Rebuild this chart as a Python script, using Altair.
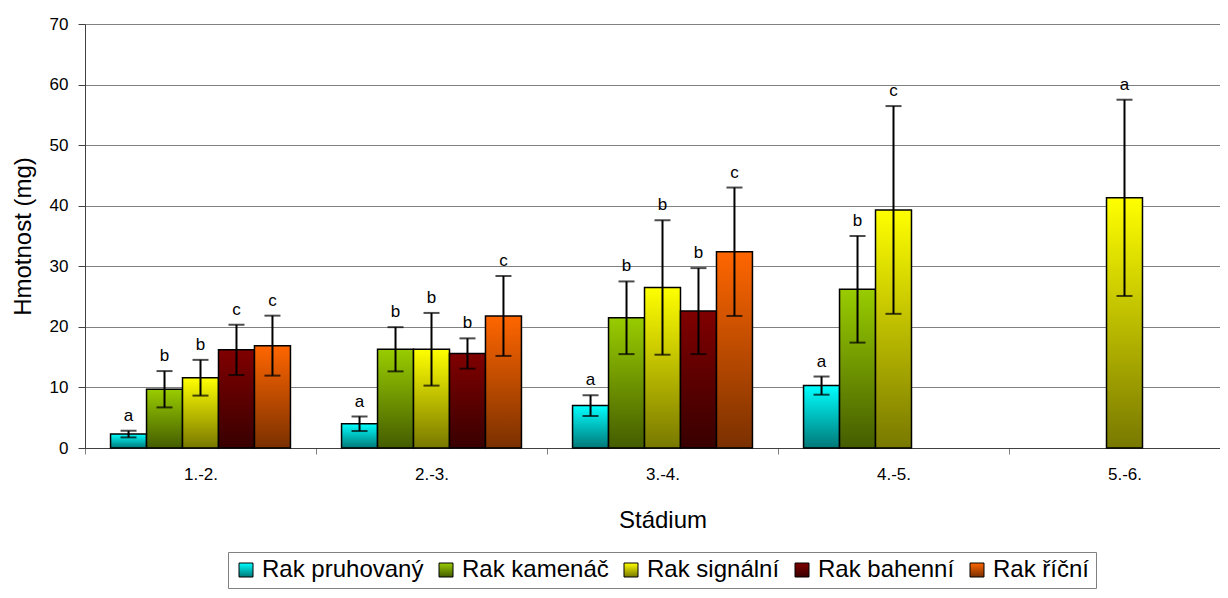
import altair as alt
import pandas as pd

stages = ["1.-2.", "2.-3.", "3.-4.", "4.-5.", "5.-6."]
species = ["Rak pruhovaný", "Rak kamenáč", "Rak signální", "Rak bahenní", "Rak říční"]

# mean weight (mg) per stage, error (± mg), significance letter
pruhovany_mean = [2.3, 4.0, 7.0, 10.3, None]
pruhovany_err = [0.55, 1.2, 1.7, 1.5, None]
pruhovany_let = ["a", "a", "a", "a", None]

kamenac_mean = [9.7, 16.3, 21.5, 26.2, None]
kamenac_err = [3.0, 3.65, 6.0, 8.8, None]
kamenac_let = ["b", "b", "b", "b", None]

signalni_mean = [11.6, 16.3, 26.5, 39.3, 41.3]
signalni_err = [2.95, 6.0, 11.1, 17.15, 16.2]
signalni_let = ["b", "b", "b", "c", "a"]

bahenni_mean = [16.2, 15.6, 22.6, None, None]
bahenni_err = [4.15, 2.5, 7.1, None, None]
bahenni_let = ["c", "b", "b", None, None]

ricni_mean = [16.9, 21.8, 32.4, None, None]
ricni_err = [4.95, 6.6, 10.6, None, None]
ricni_let = ["c", "c", "c", None, None]

grad_top = ["#00ffff", "#99cc00", "#ffff00", "#800000", "#ff6600"]
grad_bottom = ["#007878", "#445c00", "#787800", "#380000", "#7a3000"]

series = [
    (pruhovany_mean, pruhovany_err, pruhovany_let),
    (kamenac_mean, kamenac_err, kamenac_let),
    (signalni_mean, signalni_err, signalni_let),
    (bahenni_mean, bahenni_err, bahenni_let),
    (ricni_mean, ricni_err, ricni_let),
]

rows = []
for sp, (means, errs, lets) in zip(species, series):
    for st, m, e, l in zip(stages, means, errs, lets):
        if m is None:
            continue
        rows.append({"stage": st, "species": sp, "mean": m,
                     "lo": m - e, "hi": m + e, "letter": l})
df = pd.DataFrame(rows)

FONT = "Liberation Sans"

# vertical gradient (light top -> dark bottom) for each species, used as colour range
grad_range = [
    alt.ExprRef(expr="{gradient: 'linear', x1: 0, y1: 0, x2: 0, y2: 1, stops: ["
                     "{offset: 0, color: '%s'}, {offset: 1, color: '%s'}]}" % (t, b))
    for t, b in zip(grad_top, grad_bottom)
]

x_enc = alt.X(
    "stage:N",
    scale=alt.Scale(domain=stages, paddingInner=0, paddingOuter=0, range=[0, 1155]),
    axis=alt.Axis(title="Stádium", labelAngle=0, tickBand="extent", grid=False,
                  domainColor="#404040", tickColor="#808080", tickSize=6,
                  labelFontSize=17, labelPadding=12, labelColor="black",
                  titleFontSize=24, titlePadding=26, titleFontWeight="normal",
                  titleColor="black"),
)
xoff_enc = alt.XOffset("species:N",
                       scale=alt.Scale(domain=species, paddingInner=0, paddingOuter=0.71))
y_scale = alt.Scale(domain=[0, 70], nice=False)
y_axis = alt.Axis(title="Hmotnost (mg)", values=[0, 10, 20, 30, 40, 50, 60, 70],
                  grid=True, gridColor="#808080", domainColor="#404040",
                  tickColor="#404040", tickSize=7, labelFontSize=17, labelPadding=10,
                  labelColor="black", titleFontSize=24, titlePadding=14,
                  titleFontWeight="normal", titleColor="black")

base = alt.Chart(df).encode(x=x_enc, xOffset=xoff_enc)

bars = base.mark_bar(stroke="black", strokeWidth=1.5, opacity=1).encode(
    y=alt.Y("mean:Q", scale=y_scale, axis=y_axis),
    color=alt.Color("species:N",
                    scale=alt.Scale(domain=species, range=grad_range),
                    legend=alt.Legend(title=None, orient="none", legendX=143, legendY=528,
                                      direction="horizontal", columns=5,
                                      symbolType="square", symbolSize=196,
                                      symbolStrokeColor="black", symbolStrokeWidth=1,
                                      labelFontSize=24, labelFont=FONT, labelColor="black",
                                      labelLimit=400,
                                      strokeColor="#808080", padding=6,
                                      columnPadding=10, labelOffset=4)),
)

rules = base.mark_rule(color="black", strokeWidth=2).encode(y="lo:Q", y2="hi:Q")
cap_hi = base.mark_tick(color="black", thickness=2, size=16, orient="horizontal").encode(y="hi:Q")
cap_lo = base.mark_tick(color="black", thickness=2, size=16, orient="horizontal").encode(y="lo:Q")
letters = base.mark_text(baseline="bottom", dy=-6, fontSize=17, font=FONT, color="black").encode(
    y="hi:Q", text="letter:N")

chart = alt.layer(bars, rules, cap_hi, cap_lo, letters).properties(
    width=1135, height=424,
    autosize=alt.AutoSizeParams(type="none"),
    padding={"top": 16, "left": 77, "right": 0, "bottom": 142},
).configure_view(stroke=None).configure(font=FONT)

chart.save("out.html", embed_options={"renderer": "svg", "actions": False})
